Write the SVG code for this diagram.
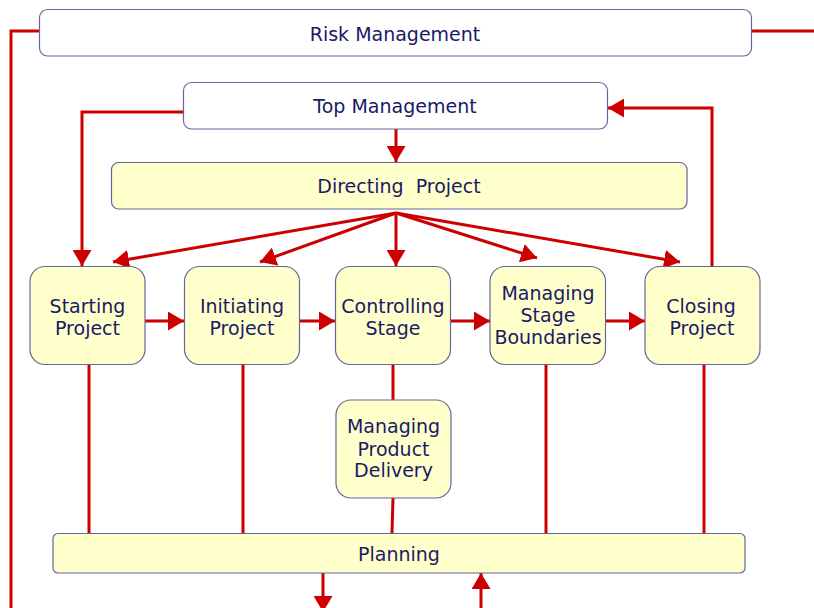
<svg xmlns="http://www.w3.org/2000/svg" width="814" height="608" viewBox="0 0 814 608">
<defs>
<marker id="arr" markerUnits="userSpaceOnUse" markerWidth="16" markerHeight="19" refX="16" refY="9.5" orient="auto" viewBox="0 0 16 19">
<path d="M0,0 L16,9.5 L0,19 z" fill="#cc0000"/>
</marker>
</defs>
<style>
.box{fill:#ffffcc;stroke:#66669a;stroke-width:1.2}
.wbox{fill:#ffffff;stroke:#66669a;stroke-width:1.2}
.t{font-family:"DejaVu Sans","Liberation Sans",sans-serif;font-size:19px;fill:#1a1a66;text-anchor:middle}
.c{fill:none;stroke:#cc0000;stroke-width:3}
.ca{fill:none;stroke:#cc0000;stroke-width:3;marker-end:url(#arr)}
</style>
<rect width="814" height="608" fill="#ffffff"/>
<g id="connectors">
<polyline class="c" points="40,31 11,31 11,610"/>
<line class="c" x1="751" y1="31" x2="816" y2="31"/>
<polyline class="ca" points="184,112 82,112 82,266"/>
<polyline class="ca" points="712,266 712,108 608,108"/>
<line class="ca" x1="396" y1="129" x2="396" y2="162"/>
<line class="ca" x1="396" y1="213" x2="113" y2="262"/>
<line class="ca" x1="396" y1="213" x2="260" y2="262"/>
<line class="ca" x1="396" y1="213" x2="396" y2="266"/>
<line class="ca" x1="396" y1="213" x2="537" y2="258"/>
<line class="ca" x1="396" y1="213" x2="680" y2="262"/>
<line class="ca" x1="145" y1="321" x2="184" y2="321"/>
<line class="ca" x1="299" y1="321" x2="335" y2="321"/>
<line class="ca" x1="451" y1="321" x2="490" y2="321"/>
<line class="ca" x1="605" y1="321" x2="645" y2="321"/>
<line class="c" x1="89" y1="364" x2="89" y2="533"/>
<line class="c" x1="243" y1="364" x2="243" y2="533"/>
<line class="c" x1="393" y1="364" x2="393" y2="400"/>
<line class="c" x1="393" y1="498" x2="392" y2="533"/>
<line class="c" x1="546" y1="364" x2="546" y2="533"/>
<line class="c" x1="704" y1="364" x2="704" y2="533"/>
<line class="ca" x1="323" y1="573" x2="323" y2="612"/>
<line class="ca" x1="481" y1="610" x2="481" y2="573"/>
</g>
<g id="risk-management">
<rect class="wbox" x="39.5" y="9.5" width="712" height="46.5" rx="8"/>
<text class="t" x="395" y="40.5">Risk Management</text>
</g>
<g id="top-management">
<rect class="wbox" x="183.5" y="82.5" width="424" height="46.5" rx="8"/>
<text class="t" x="395" y="112.5">Top Management</text>
</g>
<g id="directing-project">
<rect class="box" x="111.5" y="162.5" width="575.5" height="46.5" rx="7"/>
<text class="t" x="399" y="193.3" xml:space="preserve">Directing  Project</text>
</g>
<g id="starting-project">
<rect class="box" x="30" y="266.5" width="115" height="98" rx="15"/>
<text class="t" x="87.5" y="313">Starting</text>
<text class="t" x="87.5" y="335">Project</text>
</g>
<g id="initiating-project">
<rect class="box" x="184.5" y="266.5" width="115" height="98" rx="15"/>
<text class="t" x="242" y="313">Initiating</text>
<text class="t" x="242" y="335">Project</text>
</g>
<g id="controlling-stage">
<rect class="box" x="335.5" y="266.5" width="115" height="98" rx="15"/>
<text class="t" x="393" y="313">Controlling</text>
<text class="t" x="393" y="335">Stage</text>
</g>
<g id="managing-stage-boundaries">
<rect class="box" x="490" y="266.5" width="115.5" height="98" rx="15"/>
<text class="t" x="548" y="300">Managing</text>
<text class="t" x="548" y="322">Stage</text>
<text class="t" x="548" y="344">Boundaries</text>
</g>
<g id="closing-project">
<rect class="box" x="645" y="266.5" width="115" height="98" rx="15"/>
<text class="t" x="701" y="313">Closing</text>
<text class="t" x="702" y="335">Project</text>
</g>
<g id="managing-product-delivery">
<rect class="box" x="336" y="400" width="115" height="98" rx="15"/>
<text class="t" x="393.5" y="433.3">Managing</text>
<text class="t" x="393.5" y="455.5">Product</text>
<text class="t" x="393.5" y="477.3">Delivery</text>
</g>
<g id="planning">
<rect class="box" x="53" y="533.5" width="692" height="39.5" rx="5"/>
<text class="t" x="399" y="560.7">Planning</text>
</g>
</svg>
